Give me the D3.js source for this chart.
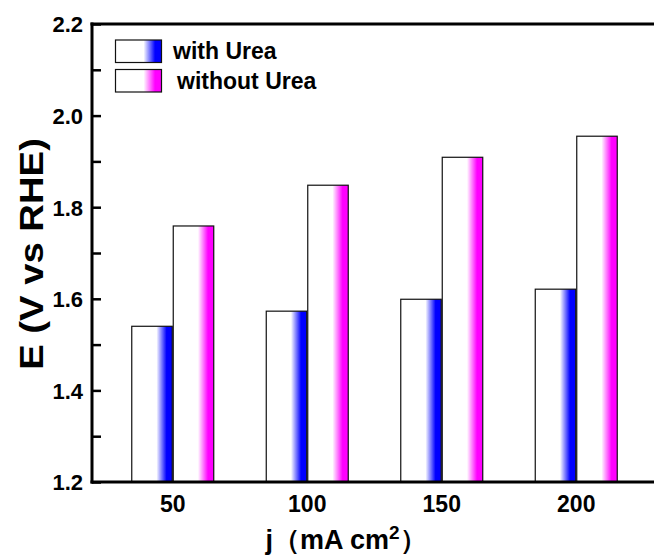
<!DOCTYPE html>
<html>
<head>
<meta charset="utf-8">
<script src="https://cdn.jsdelivr.net/npm/d3@7"></script>
<style>
  html, body { margin: 0; padding: 0; background: #fff; }
  svg { display: block; }
  text { font-family: "Liberation Sans", Arial, sans-serif; font-weight: bold; fill: #000; }
</style>
</head>
<body>
<svg id="chart" width="654" height="558"></svg>
<script>
// Current densities (mA cm^-2) on the x axis
const categories = ["50", "100", "150", "200"];
// Potentials E (V vs RHE) for each series
const withUrea = [1.540, 1.573, 1.599, 1.621];
const withoutUrea = [1.759, 1.848, 1.909, 1.955];
const seriesNames = ["with Urea", "without Urea"];
const seriesColors = ["#0000ff", "#ff00ff"];
// Y axis ticks
const majorTicks = [1.2, 1.4, 1.6, 1.8, 2.0, 2.2];
const minorTicks = [1.3, 1.5, 1.7, 1.9, 2.1];

const svg = d3.select("#chart");
const W = 654, H = 558;
const plotLeft = 92, plotTop = 24, plotBottom = 482;

const y = d3.scaleLinear().domain([1.2, 2.2]).range([plotBottom, plotTop]);
const x0 = d3.scaleBand().domain(categories).range([105.5, 643.5])
  .paddingInner(0.383).paddingOuter(0.1915);
const x1 = d3.scaleBand().domain(seriesNames).range([0, x0.bandwidth()]);

// Gradient fills: white on the left, fading into the series colour on the right
const defs = svg.append("defs");
seriesColors.forEach((c, i) => {
  const g = defs.append("linearGradient").attr("id", "grad" + i)
    .attr("x1", "0%").attr("x2", "100%").attr("y1", "0%").attr("y2", "0%");
  g.append("stop").attr("offset", "0%").attr("stop-color", "#fff");
  g.append("stop").attr("offset", "61%").attr("stop-color", "#fff");
  g.append("stop").attr("offset", "86%").attr("stop-color", c);
  g.append("stop").attr("offset", "100%").attr("stop-color", c);
});

const rows = categories.map((c, i) => ({ cat: c, vals: [withUrea[i], withoutUrea[i]] }));

// Bars
const groups = svg.append("g").selectAll("g").data(rows).join("g")
  .attr("transform", d => `translate(${x0(d.cat)},0)`);
groups.selectAll("rect").data(d => d.vals.map((v, i) => ({ v, i })))
  .join("rect")
  .attr("x", d => x1(seriesNames[d.i]) + 0.5)
  .attr("width", x1.bandwidth() - 1)
  .attr("y", d => y(d.v))
  .attr("height", d => y(1.2) - y(d.v))
  .attr("fill", d => `url(#grad${d.i})`)
  .attr("stroke", "#111")
  .attr("stroke-width", 1.2);

// Frame lines (left, bottom, top)
const frame = svg.append("g").attr("stroke", "#000").attr("stroke-width", 3).attr("fill", "none");
frame.append("line").attr("x1", plotLeft).attr("x2", plotLeft).attr("y1", plotTop - 1.5).attr("y2", plotBottom + 1.5);
frame.append("line").attr("x1", plotLeft - 1.5).attr("x2", W).attr("y1", plotBottom).attr("y2", plotBottom);
frame.append("line").attr("x1", plotLeft - 1.5).attr("x2", W).attr("y1", plotTop).attr("y2", plotTop);

// Inward ticks on the left axis
const yAxis = d3.axisLeft(y).tickValues(majorTicks).tickSize(-9).tickPadding(9)
  .tickFormat(d3.format(".1f"));
const ga = svg.append("g").attr("transform", `translate(${plotLeft},0)`).call(yAxis);
ga.select(".domain").remove();
ga.selectAll(".tick line").attr("stroke", "#000").attr("stroke-width", 2.5);
ga.selectAll(".tick text").style("font-size", "22px").attr("dy", "0.36em");
const gm = svg.append("g").attr("transform", `translate(${plotLeft},0)`)
  .call(d3.axisLeft(y).tickValues(minorTicks).tickSize(-9).tickFormat(""));
gm.select(".domain").remove();
gm.selectAll(".tick line").attr("stroke", "#000").attr("stroke-width", 2.5);

// Category labels
const xAxis = d3.axisBottom(x0).tickSize(0).tickPadding(14);
const gx = svg.append("g").attr("transform", `translate(0,${plotBottom})`).call(xAxis);
gx.select(".domain").remove();
gx.selectAll(".tick text").style("font-size", "23px");

// Axis titles
const xt = svg.append("text").attr("x", 346).attr("y", 549).attr("text-anchor", "middle")
  .style("font-size", "27px");
xt.append("tspan").text("j（mA cm");
xt.append("tspan").attr("dy", -10).style("font-size", "19px").text("2");
xt.append("tspan").attr("dy", 10).text("）");

svg.append("text").attr("transform", "translate(43,254) rotate(-90) scale(1.16,1)")
  .attr("text-anchor", "middle").style("font-size", "33px").text("E (V vs RHE)");

// Legend
const legend = svg.append("g");
seriesNames.forEach((name, i) => {
  const ly = 40 + i * 29.5;
  legend.append("rect").attr("x", 115.5).attr("y", ly).attr("width", 46).attr("height", 22.5)
    .attr("fill", `url(#grad${i})`).attr("stroke", "#111").attr("stroke-width", 1.2);
  legend.append("text").attr("x", 173 + i * 4).attr("y", ly + 19).style("font-size", "23px").text(name);
});
</script>
</body>
</html>
